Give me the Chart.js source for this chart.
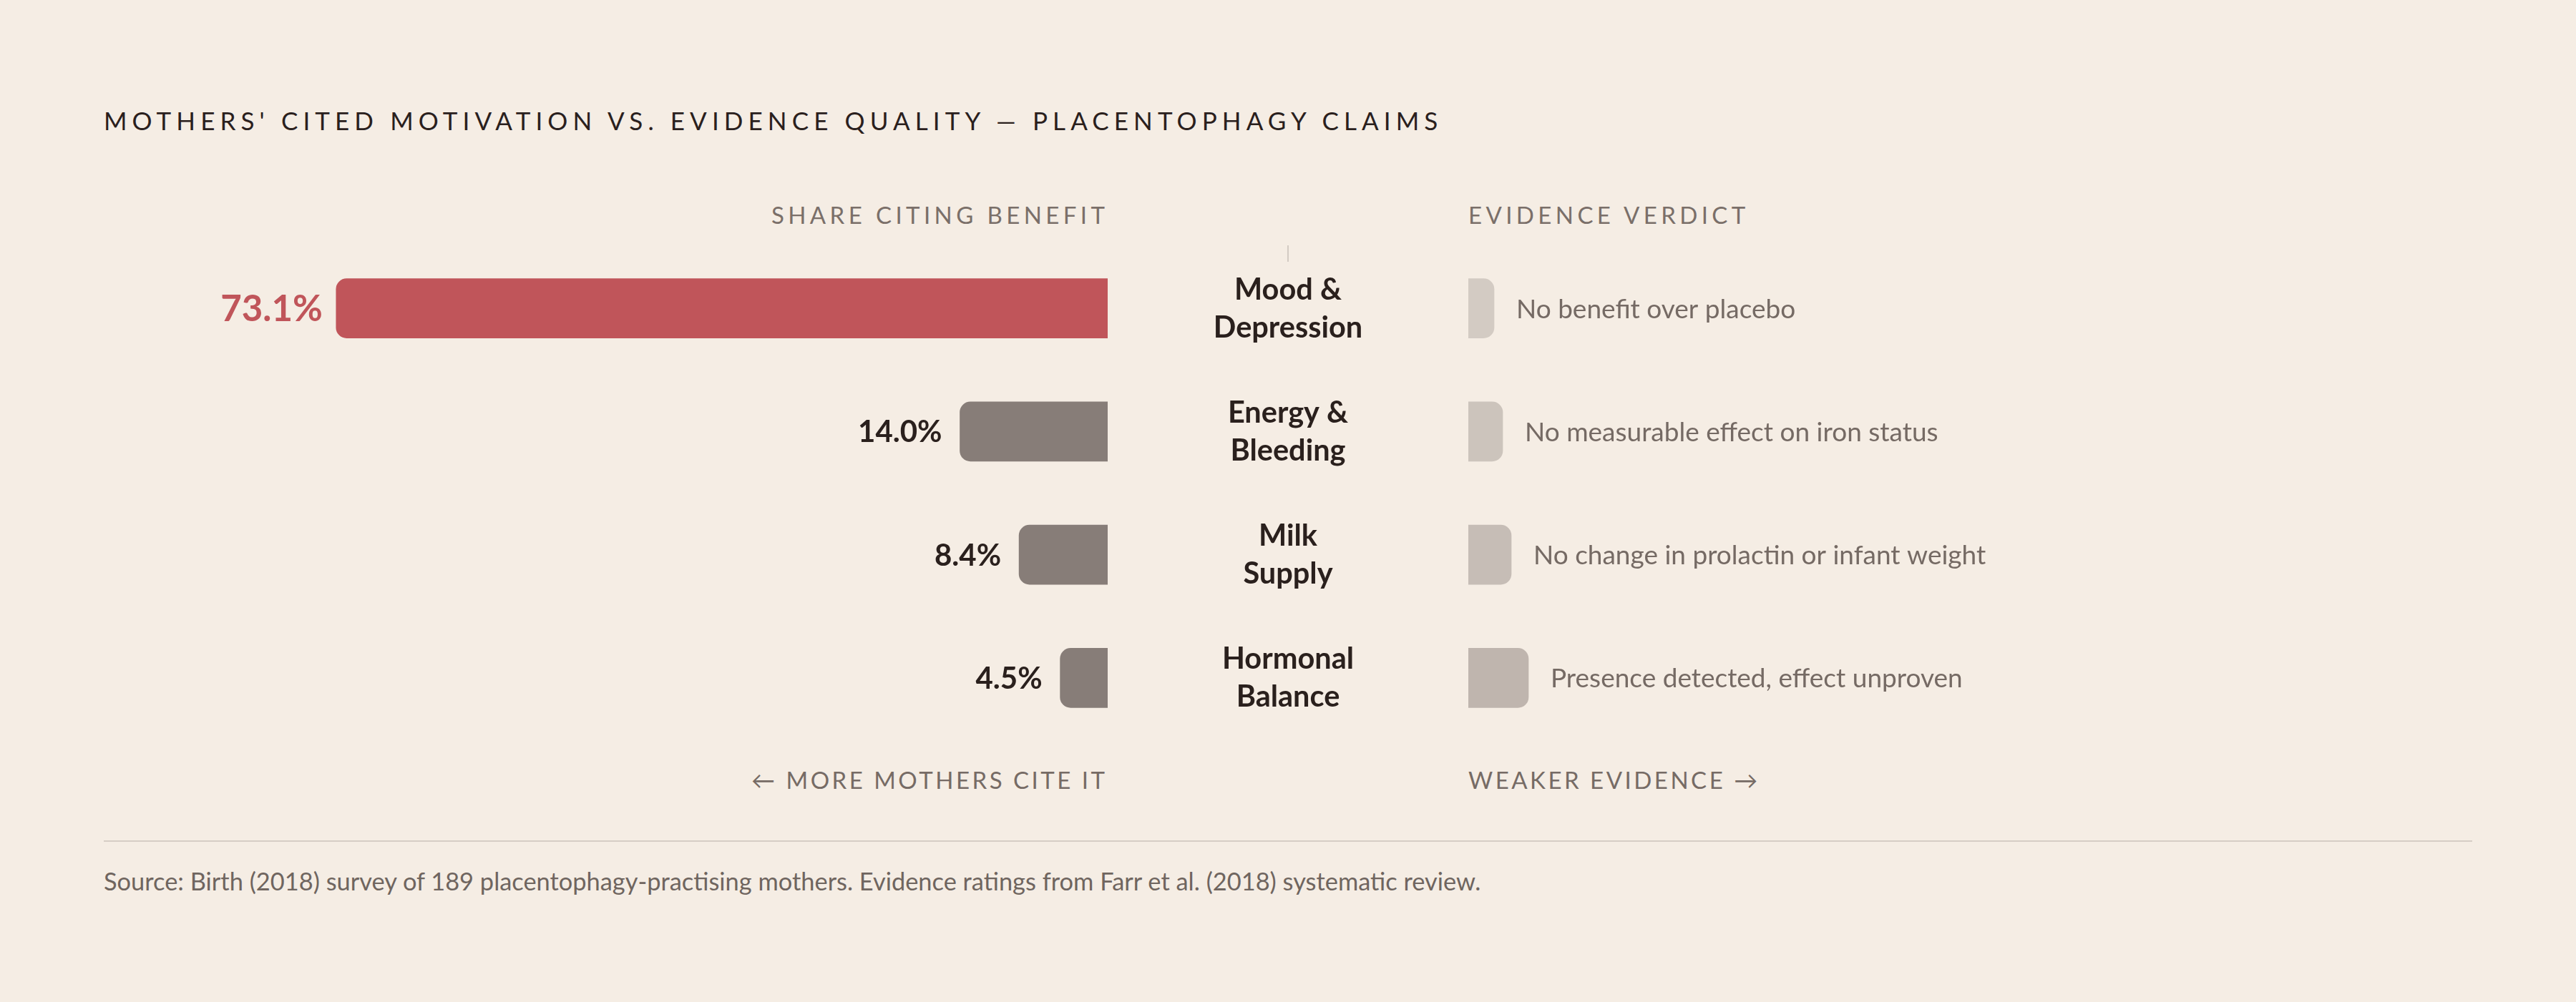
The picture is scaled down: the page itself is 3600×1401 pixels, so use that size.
<!DOCTYPE html>
<html>
<head>
<meta charset="utf-8">
<script src="https://cdn.jsdelivr.net/npm/chart.js@4.4.1/dist/chart.umd.min.js"></script>
<style>
  html, body { margin: 0; padding: 0; }
  body {
    width: 3600px; height: 1401px; overflow: hidden;
    background: #f5ede4; position: relative;
    font-family: Lato, "Noto Sans", sans-serif;
  }
  .txt { position: absolute; white-space: nowrap; line-height: 1; }
  #title { left: 145px; top: 151px; font-size: 35px; letter-spacing: 7.1px; color: #2a201d; }
  .head { top: 284px; font-size: 33px; letter-spacing: 5.4px; color: #7a6f69; }
  .head.right-al { margin-right: -5.4px; }
  .foot { top: 1074px; font-size: 33px; letter-spacing: 3.5px; color: #766b65; }
  .foot.right-al { margin-right: -3.5px; }
  .right-al { right: 2056px; }
  .left-al { left: 2052px; }
  #source { left: 145px; top: 1215px; font-size: 34.4px; color: #6f655f; }
  #rule { position: absolute; left: 145px; top: 1175px; width: 3310px; height: 2px; background: #d6cdc5; }
  #tick { position: absolute; left: 1799px; top: 343px; width: 2px; height: 23px; background: #d3cbc3; }
  canvas { position: absolute; }
</style>
</head>
<body>
<div id="title" class="txt">MOTHERS' CITED MOTIVATION VS. EVIDENCE QUALITY — PLACENTOPHAGY CLAIMS</div>
<div class="txt head right-al">SHARE CITING BENEFIT</div>
<div class="txt head left-al">EVIDENCE VERDICT</div>
<div id="tick"></div>
<canvas id="shareChart" width="2052" height="689" style="left:0;top:345px"></canvas>
<canvas id="evidenceChart" width="1548" height="689" style="left:2052px;top:345px"></canvas>
<div class="txt foot right-al">← MORE MOTHERS CITE IT</div>
<div class="txt foot left-al">WEAKER EVIDENCE →</div>
<div id="rule"></div>
<div id="source" class="txt">Source: Birth (2018) survey of 189 placentophagy-practising mothers. Evidence ratings from Farr et al. (2018) systematic review.</div>

<script>
// data
const categories = [
  ["Mood &", "Depression"],
  ["Energy &", "Bleeding"],
  ["Milk", "Supply"],
  ["Hormonal", "Balance"]
];
const shareCiting = [73.1, 14.0, 8.4, 4.5];       // % of mothers citing the benefit
const evidenceWeakness = [3, 4, 5, 7];            // weakness of evidence, 0-10
const verdicts = [
  "No benefit over placebo",
  "No measurable effect on iron status",
  "No change in prolactin or infant weight",
  "Presence detected, effect unproven"
];

// styles
const RED = "#c0555a";
const GREY = "#877d78";
const INK = "#2a201d";
const evidenceColors = ["#d3cbc3", "#ccc4bc", "#c6bdb6", "#bfb5ae"];

const shareLabels = {
  id: "shareLabels",
  afterDatasetsDraw(chart) {
    const {ctx} = chart;
    const meta = chart.getDatasetMeta(0);
    ctx.save();
    meta.data.forEach((bar, i) => {
      const big = i === 0;
      const size = big ? 51 : 42;
      ctx.font = `bold ${size}px Lato`;
      ctx.fillStyle = big ? RED : INK;
      ctx.textAlign = "right";
      ctx.textBaseline = "alphabetic";
      ctx.fillText(shareCiting[i].toFixed(1) + "%", bar.x - (big ? 19 : 25), bar.y + size * 0.358);

      // category name, centred in the gutter
      ctx.font = "bold 41.5px Lato";
      ctx.fillStyle = INK;
      ctx.textAlign = "center";
      const lines = categories[i];
      ctx.fillText(lines[0], 1800, bar.y - 12.5);
      ctx.fillText(lines[1], 1800, bar.y + 40.5);
    });
    ctx.restore();
  }
};

const verdictLabels = {
  id: "verdictLabels",
  afterDatasetsDraw(chart) {
    const {ctx} = chart;
    const meta = chart.getDatasetMeta(0);
    ctx.save();
    ctx.font = "37px Lato";
    ctx.fillStyle = "#756a64";
    ctx.textAlign = "left";
    ctx.textBaseline = "alphabetic";
    meta.data.forEach((bar, i) => {
      ctx.fillText(verdicts[i], bar.x + 31, bar.y + 13.5);
    });
    ctx.restore();
  }
};

function renderCharts() {
  new Chart(document.getElementById("shareChart"), {
    type: "bar",
    data: {
      labels: categories,
      datasets: [{
        data: shareCiting,
        backgroundColor: shareCiting.map((v, i) => i === 0 ? RED : GREY),
        borderRadius: 15,
        barThickness: 83,
      }],
    },
    options: {
      indexAxis: "y",
      responsive: false,
      animation: false,
      layout: {padding: {left: 368, right: 504, top: 0, bottom: 0}},
      plugins: {legend: {display: false}, tooltip: {enabled: false}},
      scales: {
        x: {display: false, min: 0, max: 80, reverse: true},
        y: {display: false},
      },
    },
    plugins: [shareLabels],
  });

  new Chart(document.getElementById("evidenceChart"), {
    type: "bar",
    data: {
      labels: categories,
      datasets: [{
        data: evidenceWeakness,
        backgroundColor: evidenceColors,
        borderRadius: 15,
        barThickness: 83,
      }],
    },
    options: {
      indexAxis: "y",
      responsive: false,
      animation: false,
      layout: {padding: {left: 0, right: 1428, top: 0, bottom: 0}},
      plugins: {legend: {display: false}, tooltip: {enabled: false}},
      scales: {
        x: {display: false, min: 0, max: 10},
        y: {display: false},
      },
    },
    plugins: [verdictLabels],
  });
}

Promise.all([
  document.fonts.load("bold 40px Lato"),
  document.fonts.load("36px Lato"),
]).catch(() => {}).then(renderCharts);
</script>
</body>
</html>
